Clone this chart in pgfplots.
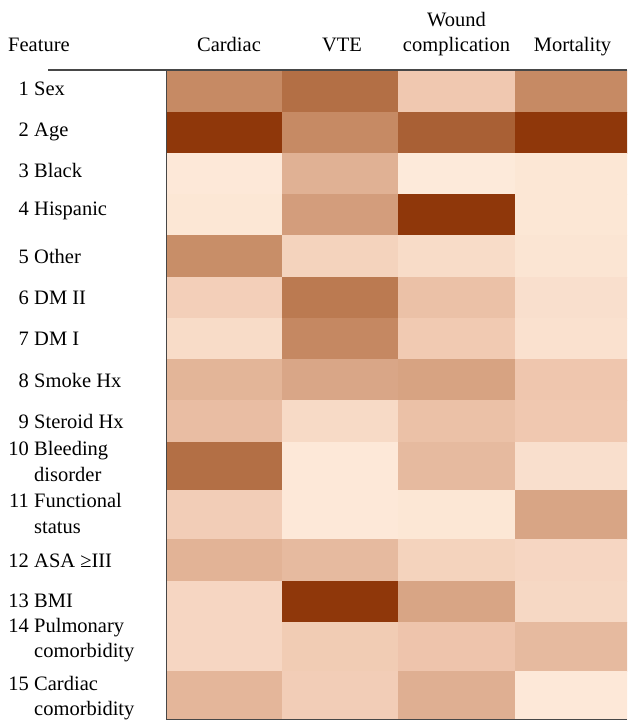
\documentclass[border=0pt]{standalone}
\usepackage{pgfplots}
\pgfplotsset{compat=1.18}
\usepackage{pgfplotstable}
\usepackage{fontspec}
\setmainfont{Liberation Serif}

\pgfplotstableread{
r c1 c2 c3 c4
1 0.55 0.70 0.20 0.55
2 1.00 0.55 0.78 1.00
3 0.02 0.33 0.01 0.03
4 0.03 0.44 1.00 0.03
5 0.53 0.14 0.09 0.04
6 0.16 0.64 0.24 0.07
7 0.09 0.56 0.19 0.06
8 0.31 0.39 0.41 0.21
9 0.26 0.10 0.24 0.20
10 0.70 0.02 0.28 0.07
11 0.17 0.02 0.03 0.40
12 0.32 0.28 0.14 0.12
13 0.12 1.00 0.40 0.11
14 0.12 0.18 0.22 0.28
15 0.30 0.17 0.34 0.02
}\heat

\gdef\cells{}
\foreach \i/\ya/\yb in {0/70/112,1/112/153,2/153/194,3/194/235,4/235/277,5/277/318,6/318/359,7/359/400,8/400/442,9/442/490,10/490/539,11/539/581,12/581/622,13/622/671,14/671/719.3}{%
  \foreach \j/\xa/\xb in {1/166.7/282.3,2/282.3/398.3,3/398.3/514.7,4/514.7/627}{%
    \pgfplotstablegetelem{\i}{c\j}\of\heat
    \xdef\cells{\cells (\xa,\ya) [\pgfplotsretval] (\xb,\ya) [\pgfplotsretval] (\xb,\yb) [\pgfplotsretval] (\xa,\yb) [\pgfplotsretval]}%
  }%
}

\begin{document}
\fontsize{20.5}{24}\selectfont
\begin{tikzpicture}[x=1pt,y=-1pt]
\path[use as bounding box] (0,0) rectangle (627,722);
\begin{axis}[
  at={(166.7pt,-70pt)}, anchor=north west,
  scale only axis, width=460.3pt, height=649.3pt,
  xmin=166.7, xmax=627, ymin=70, ymax=719.3, y dir=reverse,
  hide axis,
  colormap={heat}{rgb255(0cm)=(254,236,220); rgb255(2cm)=(240,200,176); rgb255(5.5cm)=(198,138,100); rgb255(7cm)=(179,111,69); rgb255(10cm)=(143,55,10)},
  point meta min=0, point meta max=1,
]
\edef\doplot{\noexpand\addplot[patch, patch type=rectangle, shader=flat, point meta=explicit] coordinates {\cells};}
\doplot
\end{axis}
\draw[line width=1.5pt, black!72] (48,70) -- (627,70);
\draw[line width=1.5pt, black!72] (166.7,70) -- (166.7,719.3) -- (627,719.3);
% headers
\node[anchor=base west, inner sep=0] at (8,52) {Feature};
\node[anchor=base, inner sep=0] at (229,52) {Cardiac};
\node[anchor=base, inner sep=0] at (342,52) {VTE};
\node[anchor=base, inner sep=0] at (456.5,26.5) {Wound};
\node[anchor=base, inner sep=0] at (456.5,52) {complication};
\node[anchor=base, inner sep=0] at (572.5,52) {Mortality};
% row labels
\foreach \n/\y/\t in {1/95.5/Sex,2/137/Age,3/178/Black,4/215.5/Hispanic,5/263.5/Other,6/304.5/DM II,7/345.5/DM I,8/387.5/Smoke Hx,9/428/Steroid Hx,10/455/Bleeding,11/507/Functional,12/567/ASA\ ≥III,13/607/BMI,14/632/Pulmonary,15/690/Cardiac}{%
  \node[anchor=base east, inner sep=0] at (29,\y) {\n};
  \node[anchor=base west, inner sep=0] at (34,\y) {\t};
}
\foreach \y/\t in {481.7/disorder,533/status,657/comorbidity,715/comorbidity}{%
  \node[anchor=base west, inner sep=0] at (34,\y) {\t};
}
\end{tikzpicture}
\end{document}
